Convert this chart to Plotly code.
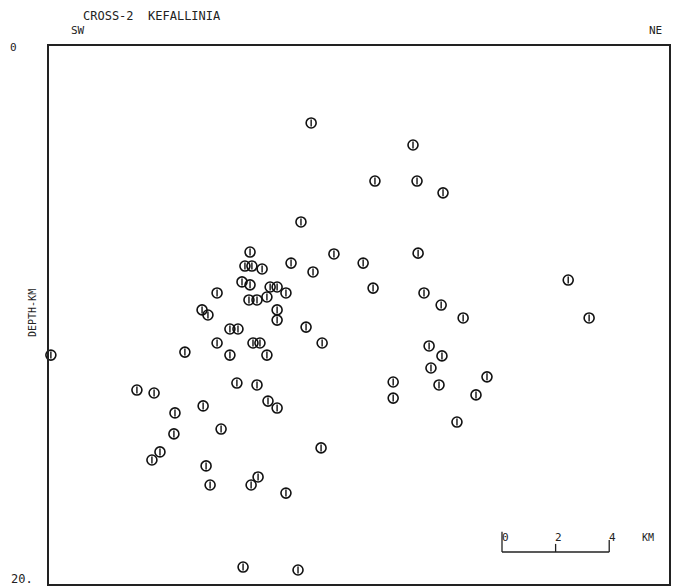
import plotly.graph_objects as go

# Hypocentre positions along the cross-section (distance km from SW edge, depth km)
dist_km = [9.78, 13.58, 12.16, 13.73, 14.70, 9.40, 7.50, 10.63, 11.72, 13.77,
           9.03, 9.85, 7.31, 7.57, 7.95, 7.20, 7.50, 8.25, 8.51, 8.84,
           7.46, 7.76, 8.13, 5.71, 5.93, 6.27, 8.51, 8.51, 6.75, 7.05,
           9.59, 6.27, 7.61, 7.87, 10.19, 5.07, 6.75, 8.13, 3.28, 3.92,
           7.01, 7.76, 8.17, 8.51, 4.70, 5.75, 4.66, 6.42, 4.14, 3.84,
           5.86, 6.01, 7.80, 7.54, 8.84, 10.15, 12.09, 13.99, 14.63, 15.45,
           14.18, 14.66, 14.25, 16.34, 12.84, 14.55, 12.84, 15.93, 15.22, 19.37,
           20.15, 7.24, 9.29, 0.07]
depth_km = [2.86, 3.68, 5.02, 5.02, 5.46, 6.54, 7.66, 7.73, 8.07, 7.70,
            8.07, 8.40, 8.18, 8.18, 8.29, 8.77, 8.88, 8.96, 8.96, 9.18,
            9.44, 9.44, 9.33, 9.81, 10.00, 9.18, 9.81, 10.19, 10.52, 10.52,
            10.45, 11.04, 11.04, 11.04, 11.04, 11.38, 11.49, 11.49, 12.79, 12.90,
            12.53, 12.60, 13.20, 13.46, 13.64, 13.38, 14.42, 14.24, 15.09, 15.39,
            15.61, 16.32, 16.02, 16.32, 16.62, 14.94, 9.00, 9.18, 9.63, 10.11,
            11.15, 11.52, 11.97, 12.30, 12.49, 12.60, 13.09, 12.97, 13.98, 8.70,
            10.11, 19.37, 19.48, 11.49]

x_range = [0, 23.13]
y_range = [20, 0]
y_tick_labels = ["0", "20."]

scalebar_start = 16.9
scalebar_len = 4
scalebar_y = 18.81
scalebar_labels = ["0", "2", "4"]

FONT = "DejaVu Sans Mono"

fig = go.Figure()
fig.add_trace(go.Scatter(
    x=dist_km, y=depth_km, mode="markers", cliponaxis=False,
    marker=dict(symbol="circle-open", size=10, color="#111",
                line=dict(width=1.6, color="#111")),
    hoverinfo="skip", showlegend=False))
fig.add_trace(go.Scatter(
    x=dist_km, y=depth_km, mode="markers", cliponaxis=False,
    marker=dict(symbol="line-ns-open", size=5, color="#111",
                line=dict(width=1.4, color="#111")),
    hoverinfo="skip", showlegend=False))

# scale bar
sb_end = scalebar_start + scalebar_len
sb_mid = scalebar_start + scalebar_len / 2
shapes = [
    dict(type="line", xref="x", yref="y", x0=scalebar_start, x1=sb_end,
         y0=scalebar_y, y1=scalebar_y, line=dict(color="#222", width=1.3)),
    dict(type="line", xref="x", yref="y", x0=scalebar_start, x1=scalebar_start,
         y0=scalebar_y, y1=scalebar_y - 0.75, line=dict(color="#222", width=1.3)),
    dict(type="line", xref="x", yref="y", x0=sb_mid, x1=sb_mid,
         y0=scalebar_y, y1=scalebar_y - 0.3, line=dict(color="#222", width=1.3)),
    dict(type="line", xref="x", yref="y", x0=sb_end, x1=sb_end,
         y0=scalebar_y, y1=scalebar_y - 0.45, line=dict(color="#222", width=1.3)),
]
annotations = []
for i, lab in enumerate(scalebar_labels):
    annotations.append(dict(x=scalebar_start + i * scalebar_len / 2 + 0.12,
                            y=scalebar_y - 0.55, xref="x", yref="y",
                            text=lab, showarrow=False, xanchor="center",
                            yanchor="middle",
                            font=dict(family=FONT, size=11, color="#222")))
annotations.append(dict(x=sb_end + 1.45, y=scalebar_y - 0.55, xref="x", yref="y",
                        text="KM", showarrow=False, xanchor="center", yanchor="middle",
                        font=dict(family=FONT, size=10, color="#222")))

# axis labels / titles in paper coordinates
annotations += [
    dict(x=0, y=y_range[1], xref="paper", yref="y", text=y_tick_labels[0],
         showarrow=False, xanchor="right", yanchor="middle", xshift=-30, yshift=-1,
         font=dict(family=FONT, size=11, color="#222")),
    dict(x=0, y=y_range[0], xref="paper", yref="y", text=y_tick_labels[1],
         showarrow=False, xanchor="right", yanchor="middle", xshift=-14, yshift=5,
         font=dict(family=FONT, size=12, color="#222")),
    dict(x=0, y=0.5, xref="paper", yref="paper", text="DEPTH-KM", textangle=-90,
         showarrow=False, xanchor="center", yanchor="middle", xshift=-17, yshift=2,
         font=dict(family=FONT, size=10, color="#222")),
    dict(x=0, y=1, xref="paper", yref="paper", text="CROSS-2  KEFALLINIA",
         showarrow=False, xanchor="left", yanchor="bottom", xshift=32, yshift=21,
         font=dict(family=FONT, size=12, color="#222")),
    dict(x=0, y=1, xref="paper", yref="paper", text="SW",
         showarrow=False, xanchor="left", yanchor="bottom", xshift=20, yshift=7,
         font=dict(family=FONT, size=11, color="#222")),
    dict(x=1, y=1, xref="paper", yref="paper", text="NE",
         showarrow=False, xanchor="right", yanchor="bottom", xshift=-5, yshift=7,
         font=dict(family=FONT, size=11, color="#222")),
]

fig.update_layout(
    width=674, height=587,
    margin=dict(l=49, r=5, t=46, b=3),
    paper_bgcolor="white", plot_bgcolor="white",
    shapes=shapes, annotations=annotations,
    xaxis=dict(range=x_range, showgrid=False, zeroline=False, showticklabels=False,
               ticks="", showline=True, linecolor="#222", linewidth=1.5, mirror=True),
    yaxis=dict(range=y_range, showgrid=False, zeroline=False, showticklabels=False,
               ticks="", showline=True, linecolor="#222", linewidth=1.5, mirror=True),
)

fig.write_html("out.html")
